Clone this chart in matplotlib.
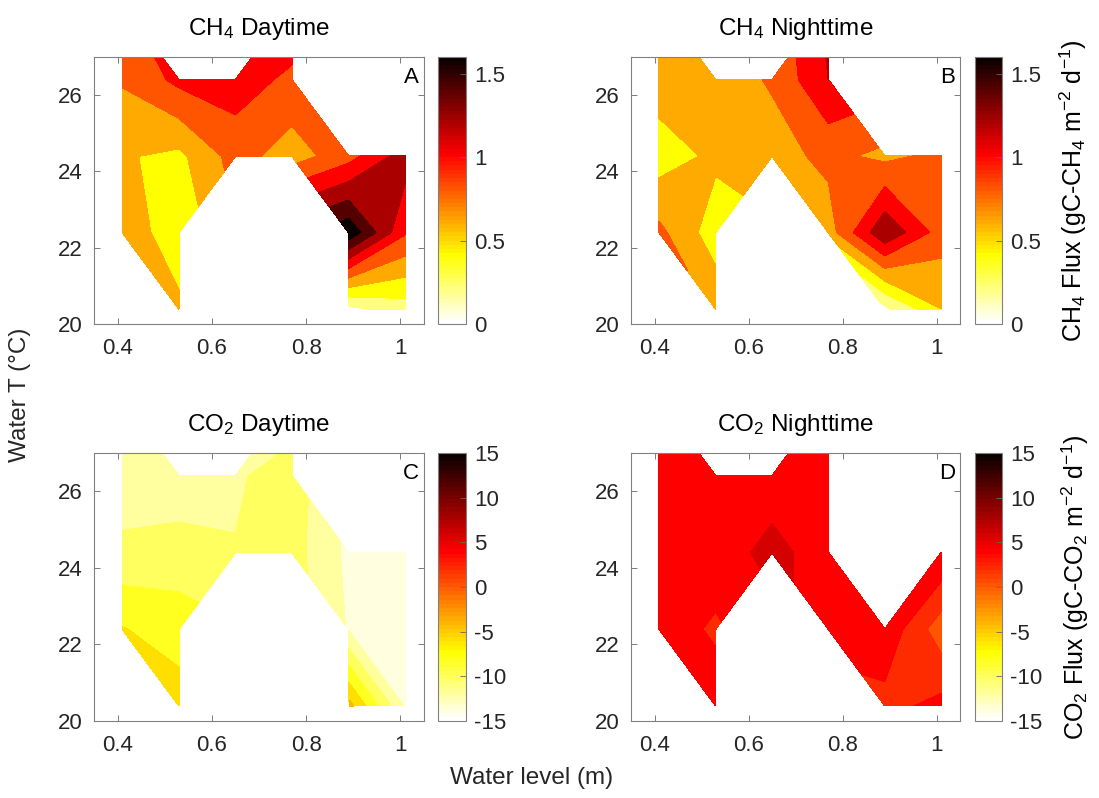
import numpy as np
import matplotlib
matplotlib.use('Agg')
import matplotlib.pyplot as plt
from matplotlib.colors import ListedColormap, Normalize
from matplotlib.cm import ScalarMappable

plt.rcParams['font.family'] = ['Liberation Sans', 'DejaVu Sans']
plt.rcParams['mathtext.fontset'] = 'custom'
plt.rcParams['mathtext.rm'] = 'Liberation Sans'
plt.rcParams['mathtext.it'] = 'Liberation Sans:italic'
plt.rcParams['mathtext.bf'] = 'Liberation Sans:bold'
plt.rcParams['axes.unicode_minus'] = False

nan = np.nan

# grid of the measurements
water_level = [0.41, 0.53, 0.65, 0.77, 0.89, 1.01]
water_temp = [20.4, 22.4, 24.4, 26.4, 28.4]

# rows follow water_temp, columns follow water_level
ch4_day = [
    [nan, 0.65, nan, nan, 0.15, 0.30],
    [0.75, 0.45, nan, nan, 1.75, 1.02],
    [0.62, 0.55, 0.88, 0.70, 0.92, 1.30],
    [0.82, 1.05, 1.10, 0.95, nan, nan],
    [0.98, nan, nan, 1.20, nan, nan],
]
ch4_night = [
    [nan, 0.75, nan, nan, 0.15, 0.60],
    [0.85, 0.485, nan, 0.70, 1.37, 0.90],
    [0.50, 0.64, 0.72, 0.85, 0.75, 0.85],
    [0.70, 0.70, 0.82, 1.20, nan, nan],
    [0.70, nan, nan, 1.25, nan, nan],
]
co2_day = [
    [nan, -5.0, nan, nan, -3.34, -12.3],
    [-5.9, -7.0, nan, nan, -12.18, -13.0],
    [-9.6, -9.08, -9.9, -9.2, -12.5, -13.0],
    [-11.0, -11.4, -10.3, -9.0, nan, nan],
    [-13.0, nan, nan, -11.5, nan, nan],
]
co2_night = [
    [nan, 5.0, nan, nan, 3.3, 4.6],
    [5.0, 3.7, nan, 5.0, 5.5, 0.8],
    [5.0, 5.0, 6.6, 5.0, nan, 5.9],
    [5.0, 5.0, 5.0, 5.0, nan, nan],
    [5.0, nan, nan, 5.0, nan, nan],
]

ch4_ticks = [0, 0.5, 1, 1.5]
co2_ticks = [-15, -10, -5, 0, 5, 10, 15]


def matlab_hot(m=64):
    n = int(3 / 8 * m)
    r = np.concatenate([np.arange(1, n + 1) / n, np.ones(m - n)])
    g = np.concatenate([np.zeros(n), np.arange(1, n + 1) / n, np.ones(m - 2 * n)])
    b = np.concatenate([np.zeros(2 * n), np.arange(1, m - 2 * n + 1) / (m - 2 * n)])
    return np.column_stack([r, g, b])


cmap = ListedColormap(matlab_hot()[::-1])

W, H = 1099, 798
fig = plt.figure(figsize=(W / 100, H / 100), dpi=100)


def px_axes(left, top, right, bottom):
    return fig.add_axes([left / W, 1 - bottom / H, (right - left) / W, (bottom - top) / H])


def panel(ax_box, cb_box, data, vmin, vmax, levels, ticks, title, letter, cb_label=None):
    ax = px_axes(*ax_box)
    cax = px_axes(*cb_box)
    norm = Normalize(vmin, vmax)
    z = np.ma.masked_invalid(np.array(data, dtype=float))
    cols = [cmap(norm(l) + 1e-9) for l in levels[:-1]]
    cs = ax.contourf(water_level, water_temp, z, levels=levels, colors=cols)
    cs.set_edgecolor('face')
    cs.set_linewidth(0.4)
    ax.set_xlim(0.35, 1.05)
    ax.set_ylim(20, 27)
    ax.set_xticks([0.4, 0.6, 0.8, 1.0])
    ax.set_xticklabels(['0.4', '0.6', '0.8', '1'])
    ax.set_yticks([20, 22, 24, 26])
    ax.tick_params(direction='in', top=True, right=True, length=4, width=0.6,
                   color='#666666', labelcolor='#262626', labelsize=16)
    ax.tick_params(axis='y', pad=8)
    ax.tick_params(axis='x', pad=10)
    for s in ax.spines.values():
        s.set_color('#808080')
        s.set_linewidth(0.8)
    ax.set_title(title, fontsize=17.5, color='black', pad=16)
    ax.text(0.985, 0.925, letter, transform=ax.transAxes, ha='right', va='center',
            fontsize=16, color='black')

    cb = fig.colorbar(ScalarMappable(norm=norm, cmap=cmap), cax=cax)
    cb.set_ticks(ticks)
    cb.set_ticklabels(['%g' % t for t in ticks])
    cb.outline.set_edgecolor('#808080')
    cb.outline.set_linewidth(0.8)
    cax.tick_params(direction='in', length=4, width=0.6, color='#666666',
                    labelcolor='#262626', labelsize=16, pad=6)
    if cb_label:
        cax.set_ylabel(cb_label, fontsize=18, color='black', labelpad=12)
    return ax


ch4_levels = np.round(np.arange(0, 2.01, 0.2), 2)
co2_levels = np.arange(-16, 17, 2)

panel((94, 57, 424, 324), (438, 57, 466, 324), ch4_day, 0, 1.6, ch4_levels,
      ch4_ticks, r'CH$_4$ Daytime', 'A')
panel((631, 57, 960, 324), (975, 57, 1002, 324), ch4_night, 0, 1.6, ch4_levels,
      ch4_ticks, r'CH$_4$ Nighttime', 'B',
      r'CH$_4$ Flux (gC-CH$_4$ m$^{-2}$ d$^{-1}$)')
panel((94, 453, 424, 721), (438, 453, 466, 721), co2_day, -15, 15, co2_levels,
      co2_ticks, r'CO$_2$ Daytime', 'C')
panel((631, 453, 960, 721), (975, 453, 1002, 721), co2_night, -15, 15, co2_levels,
      co2_ticks, r'CO$_2$ Nighttime', 'D',
      r'CO$_2$ Flux (gC-CO$_2$ m$^{-2}$ d$^{-1}$)')

fig.text(20 / W, 1 - 395 / H, 'Water T (\u00b0C)', rotation=90, ha='center', va='center',
         fontsize=17.5, color='#262626')
fig.text(532 / W, 1 - 778 / H, 'Water level (m)', ha='center', va='center',
         fontsize=17.5, color='#262626')

fig.savefig('out.png', dpi=100)
